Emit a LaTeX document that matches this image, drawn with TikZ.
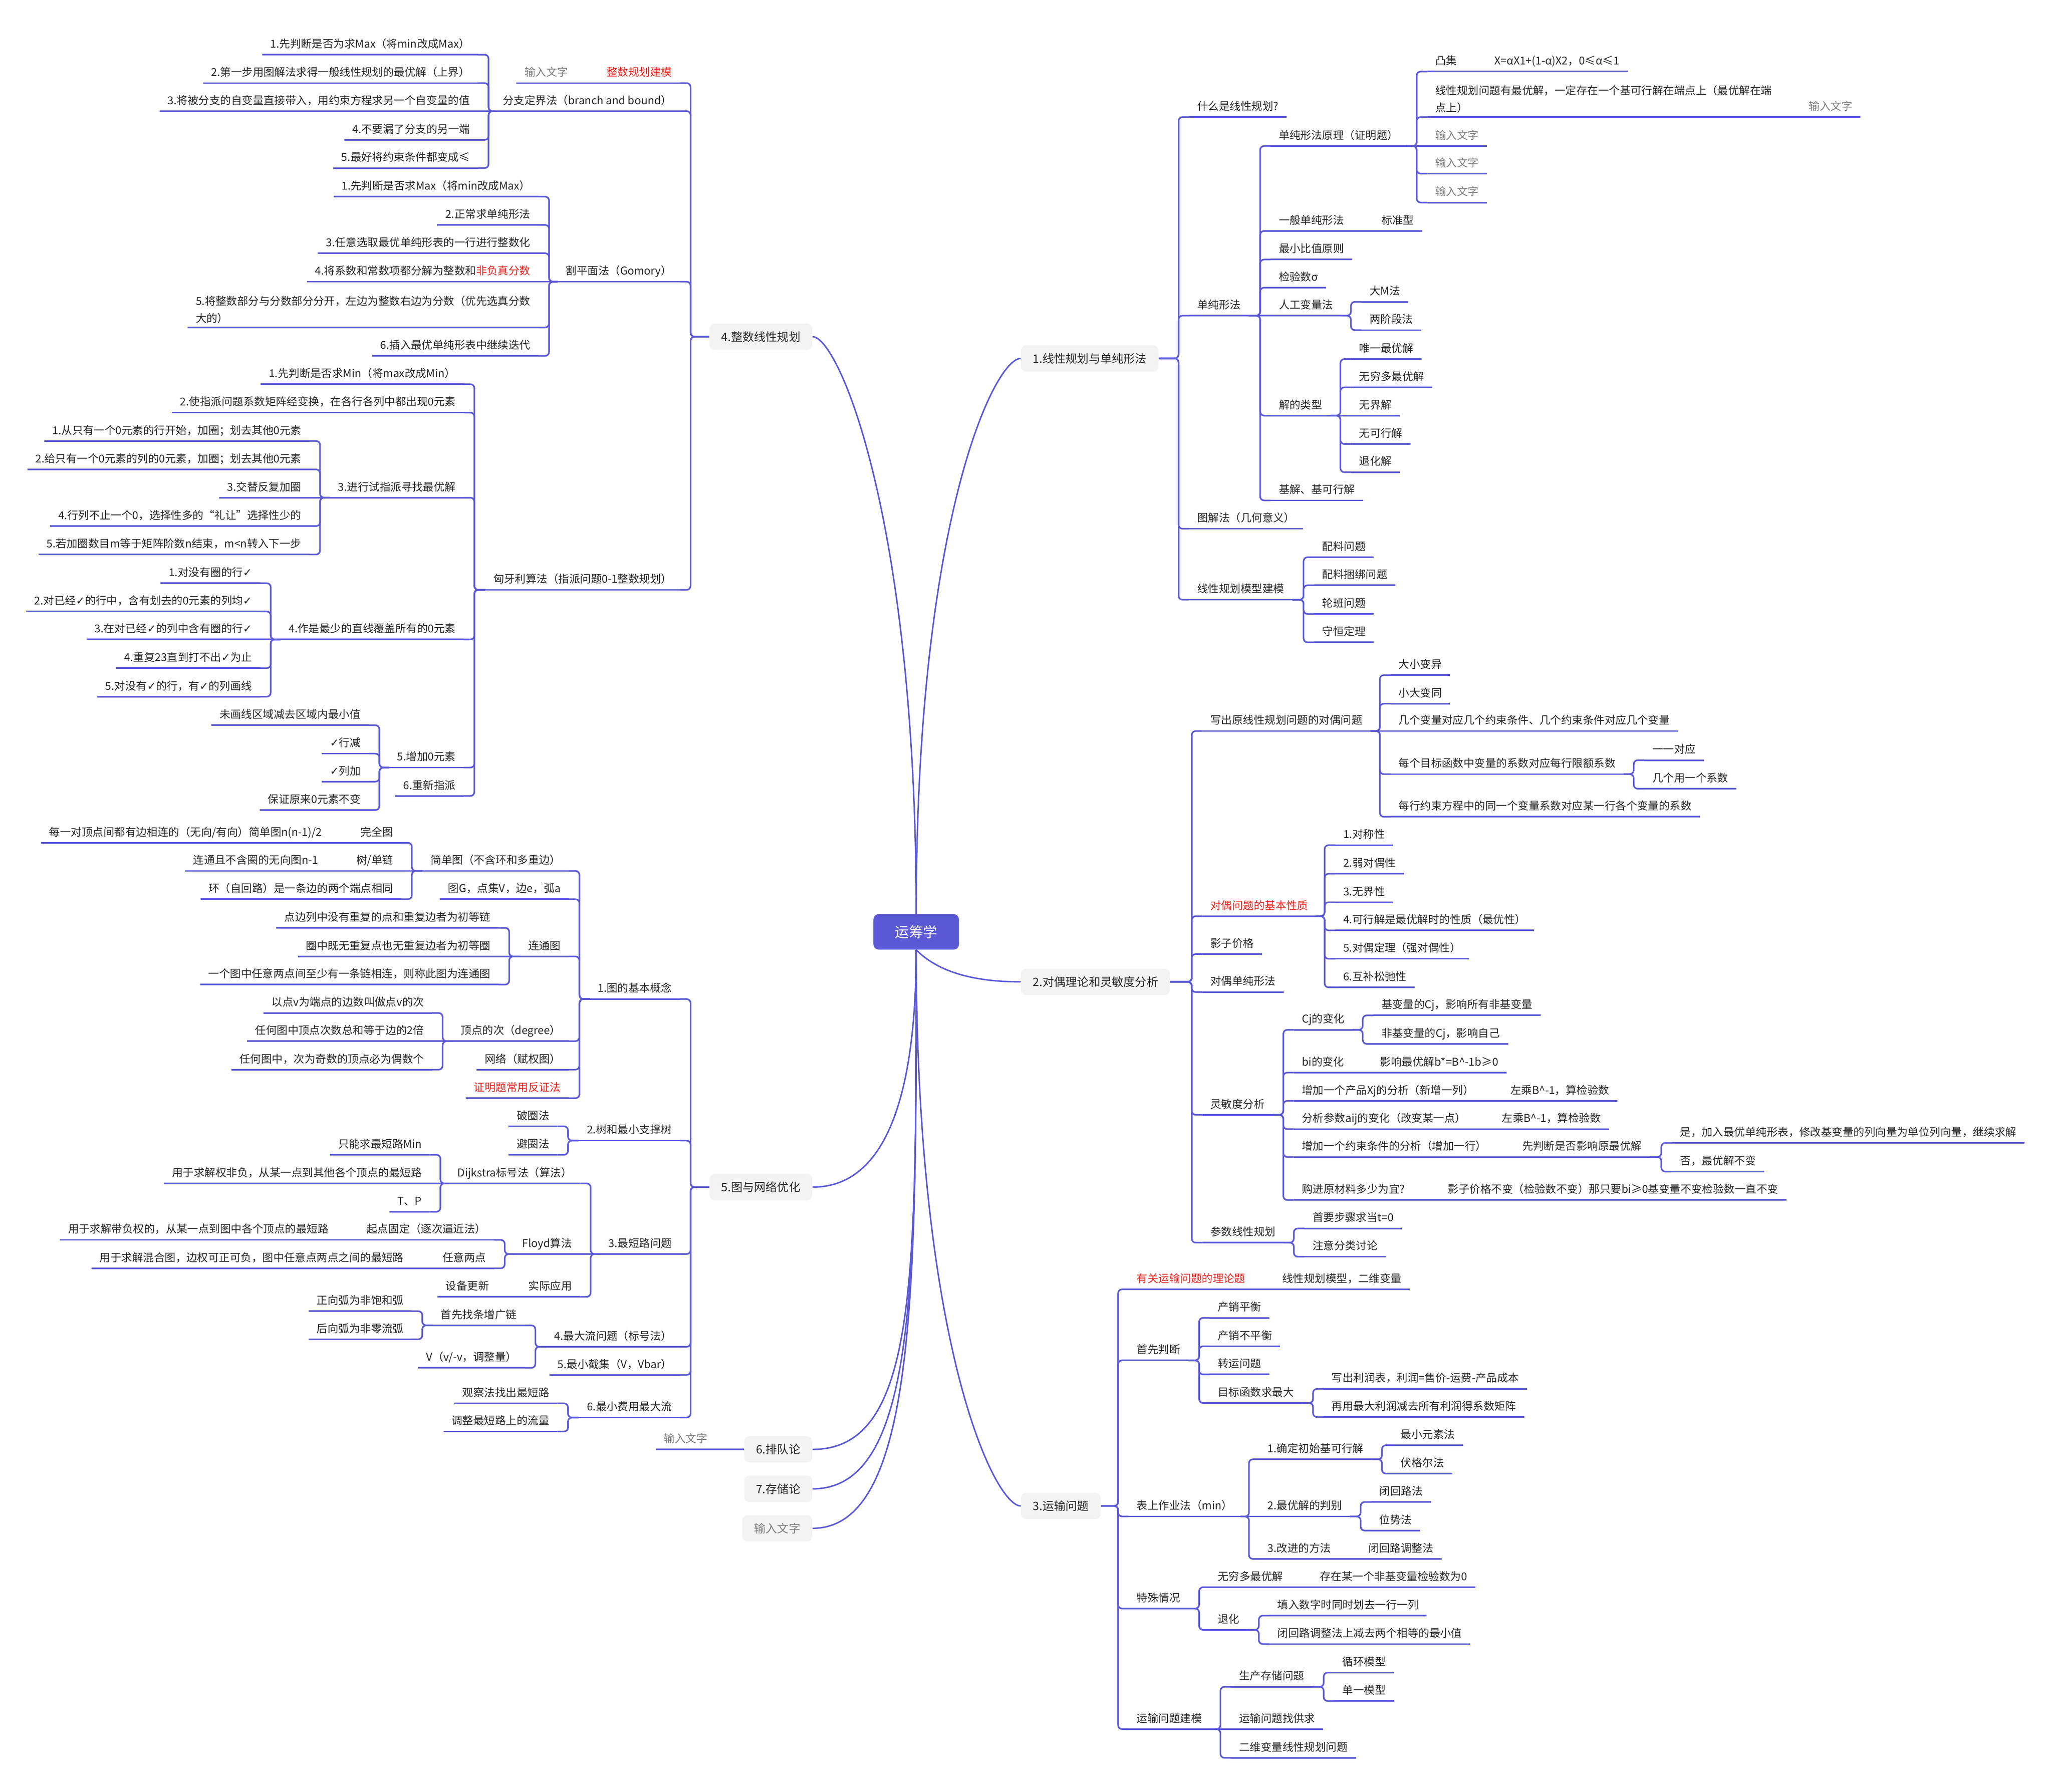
\documentclass[tikz,border=0pt]{standalone}
\usepackage{fontspec}
\setmainfont{Noto Sans CJK SC}
\newfontfamily\symfont{DejaVu Sans}
\newcommand\ck{{\symfont ✓}}
\newcommand\itemfont{\fontsize{8.25pt}{13pt}\selectfont}
\newcommand\topicfont{\fontsize{8.8pt}{11pt}\selectfont}
\newcommand\rootfont{\fontsize{10.8pt}{13pt}\selectfont}
\definecolor{lc}{RGB}{91,88,214}
\definecolor{tc}{RGB}{38,38,38}
\definecolor{gc}{RGB}{125,125,125}
\definecolor{rc}{RGB}{230,35,30}
\definecolor{boxc}{RGB}{243,243,243}
\tikzset{
  link/.style={draw=lc, line width=1.2pt, rounded corners=3pt},
  curve/.style={draw=lc, line width=1.1pt},
  ul/.style={append after command={(\tikzlastnode.south west) edge[link] (\tikzlastnode.south east)}},
  lab/.style={font=\itemfont, text=tc, inner xsep=6pt, inner ysep=3pt, ul},
  it/.style={lab, text height=6.5pt, text depth=2pt},
  rt/.style={it, anchor=south west},
  lt/.style={it, anchor=south east},
  rt2/.style={lab, align=left, anchor=south west},
  lt2/.style={lab, align=left, anchor=south east},
  greytxt/.style={text=gc},
  redtxt/.style={text=rc},
  topic/.style={fill=boxc, rounded corners=4pt, font=\topicfont, text=tc, inner xsep=9pt, minimum height=20pt},
  rootbox/.style={fill=lc, text=white, rounded corners=4pt, font=\rootfont, minimum width=65pt, minimum height=27pt}
}

\begin{document}
\begin{tikzpicture}[x=1pt, y=-1pt]
    \fill[white] (0,0) rectangle (1560,1362.5);
    \useasboundingbox (0,0) rectangle (1560,1362.5);

    \node[rootbox] (r) at (696.5,708.5) {运筹学};

    % 1
    \node[topic, anchor=west] (t1) at (776,272.5) {1.线性规划与单纯形法};
    \node[rt] (a1) at (904,89) {什么是线性规划?};
    \node[rt] (a2) at (904,240) {单纯形法};
    \node[rt] (a3) at (904,402) {图解法（几何意义）};
    \node[rt] (a4) at (904,456) {线性规划模型建模};
    \node[rt] (a21) at (966,111) {单纯形法原理（证明题）};
    \node[rt] (a22) at (966,175.6) {一般单纯形法};
    \node[rt] (a23) at (966,197.3) {最小比值原则};
    \node[rt] (a24) at (966,218.7) {检验数σ};
    \node[rt] (a25) at (966,240) {人工变量法};
    \node[rt] (a26) at (966,316) {解的类型};
    \node[rt] (a27) at (966,380.5) {基解、基可行解};
    \node[rt] (a211) at (1085,54.4) {凸集};
    \node[rt2] (a212) at (1085,89) {线性规划问题有最优解，一定存在一个基可行解在端点上（最优解在端\\点上）};
    \node[rt, greytxt] (a213) at (1085,111) {输入文字};
    \node[rt, greytxt] (a214) at (1085,132) {输入文字};
    \node[rt, greytxt] (a215) at (1085,154) {输入文字};
    \node[rt] (a2111) at (1130,54.4) {X=αX1+(1-α)X2，0≤α≤1};
    \node[rt, greytxt] (a2121) at (1369,89) {输入文字};
    \node[rt] (a221) at (1044,175.6) {标准型};
    \node[rt] (a251) at (1035,229.5) {大M法};
    \node[rt] (a252) at (1035,251) {两阶段法};
    \node[rt] (a261) at (1027,273) {唯一最优解};
    \node[rt] (a262) at (1027,294.5) {无穷多最优解};
    \node[rt] (a263) at (1027,316) {无界解};
    \node[rt] (a264) at (1027,337.6) {无可行解};
    \node[rt] (a265) at (1027,359) {退化解};
    \node[rt] (a41) at (999,423.7) {配料问题};
    \node[rt] (a42) at (999,445) {配料捆绑问题};
    \node[rt] (a43) at (999,466.8) {轮班问题};
    \node[rt] (a44) at (999,488.4) {守恒定理};

    \foreach \x in {a1,a2,a3,a4} \draw[link] (\x.south west) -- ++(-8,0) |- (t1.east);
    \foreach \x in {a21,a22,a23,a24,a26,a27} \draw[link] (\x.south west) -- ++(-8,0) |- (a2.south east);
    \draw[link] (a25.south west) -- (a2.south east);
    \foreach \x in {a211,a212,a214,a215} \draw[link] (\x.south west) -- ++(-8,0) |- (a21.south east);
    \draw[link] (a213.south west) -- (a21.south east);
    \draw[link] (a2111.south west) -- (a211.south east);
    \draw[link] (a2121.south west) -- (a212.south east);
    \draw[link] (a221.south west) -- (a22.south east);
    \foreach \x in {a251,a252} \draw[link] (\x.south west) -- ++(-8,0) |- (a25.south east);
    \foreach \x in {a261,a262,a264,a265} \draw[link] (\x.south west) -- ++(-8,0) |- (a26.south east);
    \draw[link] (a263.south west) -- (a26.south east);
    \foreach \x in {a41,a42,a43,a44} \draw[link] (\x.south west) -- ++(-8,0) |- (a4.south east);

    % 2
    \node[topic, anchor=west] (t2) at (776,746.5) {2.对偶理论和灵敏度分析};
    \node[rt] (b1) at (914,555.8) {写出原线性规划问题的对偶问题};
    \node[rt, redtxt] (b2) at (914,696.6) {对偶问题的基本性质};
    \node[rt] (b3) at (914,725.4) {影子价格};
    \node[rt] (b4) at (914,754.3) {对偶单纯形法};
    \node[rt] (b5) at (914,847.6) {灵敏度分析};
    \node[rt] (b6) at (914,944.8) {参数线性规划};
    \node[rt] (b11) at (1057,513.3) {大小变异};
    \node[rt] (b12) at (1057,535) {小大变同};
    \node[rt] (b13) at (1057,555.8) {几个变量对应几个约束条件、几个约束条件对应几个变量};
    \node[rt] (b14) at (1057,588.6) {每个目标函数中变量的系数对应每行限额系数};
    \node[rt] (b15) at (1057,621) {每行约束方程中的同一个变量系数对应某一行各个变量的系数};
    \node[rt] (b141) at (1250,578) {一一对应};
    \node[rt] (b142) at (1250,599.7) {几个用一个系数};
    \node[rt] (b21) at (1015,642.6) {1.对称性};
    \node[rt] (b22) at (1015,664.3) {2.弱对偶性};
    \node[rt] (b23) at (1015,686) {3.无界性};
    \node[rt] (b24) at (1015,707.4) {4.可行解是最优解时的性质（最优性）};
    \node[rt] (b25) at (1015,729) {5.对偶定理（强对偶性）};
    \node[rt] (b26) at (1015,750.7) {6.互补松弛性};
    \node[rt] (b51) at (983.6,783) {Cj的变化};
    \node[rt] (b52) at (983.6,815.5) {bi的变化};
    \node[rt] (b53) at (983.6,837) {增加一个产品Xj的分析（新增一列）};
    \node[rt] (b54) at (983.6,858.5) {分析参数aij的变化（改变某一点）};
    \node[rt] (b55) at (983.6,879.7) {增加一个约束条件的分析（增加一行）};
    \node[rt] (b56) at (983.6,912.4) {购进原材料多少为宜?};
    \node[rt] (b511) at (1044,772) {基变量的Cj，影响所有非基变量};
    \node[rt] (b512) at (1044,793.7) {非基变量的Cj，影响自己};
    \node[rt] (b521) at (1043,815.5) {影响最优解b*=B\textasciicircum-1b≥0};
    \node[rt] (b531) at (1142,837) {左乘B\textasciicircum-1，算检验数};
    \node[rt] (b541) at (1135.6,858.5) {左乘B\textasciicircum-1，算检验数};
    \node[rt] (b551) at (1151,879.7) {先判断是否影响原最优解};
    \node[rt] (b5511) at (1271,869) {是，加入最优单纯形表，修改基变量的列向量为单位列向量，继续求解};
    \node[rt] (b5512) at (1271,890.8) {否，最优解不变};
    \node[rt] (b561) at (1094.5,912.4) {影子价格不变（检验数不变）那只要bi≥0基变量不变检验数一直不变};
    \node[rt] (b61) at (991.6,934) {首要步骤求当t=0};
    \node[rt] (b62) at (991.6,955.5) {注意分类讨论};

    \foreach \x in {b1,b2,b3,b4,b5,b6} \draw[link] (\x.south west) -- ++(-8,0) |- (t2.east);
    \foreach \x in {b11,b12,b14,b15} \draw[link] (\x.south west) -- ++(-8,0) |- (b1.south east);
    \draw[link] (b13.south west) -- (b1.south east);
    \foreach \x in {b141,b142} \draw[link] (\x.south west) -- ++(-8,0) |- (b14.south east);
    \foreach \x in {b21,b22,b23,b24,b25,b26} \draw[link] (\x.south west) -- ++(-8,0) |- (b2.south east);
    \foreach \x in {b51,b52,b53,b54,b55,b56} \draw[link] (\x.south west) -- ++(-8,0) |- (b5.south east);
    \foreach \x in {b511,b512} \draw[link] (\x.south west) -- ++(-8,0) |- (b51.south east);
    \draw[link] (b521.south west) -- (b52.south east);
    \draw[link] (b531.south west) -- (b53.south east);
    \draw[link] (b541.south west) -- (b54.south east);
    \draw[link] (b551.south west) -- (b55.south east);
    \foreach \x in {b5511,b5512} \draw[link] (\x.south west) -- ++(-8,0) |- (b551.south east);
    \draw[link] (b561.south west) -- (b56.south east);
    \foreach \x in {b61,b62} \draw[link] (\x.south west) -- ++(-8,0) |- (b6.south east);

    % 3
    \node[topic, anchor=west] (t3) at (776,1145) {3.运输问题};
    \node[rt, redtxt] (c1) at (858,980.3) {有关运输问题的理论题};
    \node[rt] (c11) at (968.6,980.3) {线性规划模型，二维变量};
    \node[rt] (c2) at (858,1034.3) {首先判断};
    \node[rt] (c3) at (858,1153) {表上作业法（min）};
    \node[rt] (c4) at (858,1223) {特殊情况};
    \node[rt] (c5) at (858,1314.7) {运输问题建模};
    \node[rt] (c21) at (919.6,1002) {产销平衡};
    \node[rt] (c22) at (919.6,1023.6) {产销不平衡};
    \node[rt] (c23) at (919.6,1045) {转运问题};
    \node[rt] (c24) at (919.6,1066.7) {目标函数求最大};
    \node[rt] (c241) at (1006.2,1056) {写出利润表，利润=售价-运费-产品成本};
    \node[rt] (c242) at (1006.2,1077.4) {再用最大利润减去所有利润得系数矩阵};
    \node[rt] (c31) at (957.5,1109.5) {1.确定初始基可行解};
    \node[rt] (c32) at (957.5,1153) {2.最优解的判别};
    \node[rt] (c33) at (957.5,1185.3) {3.改进的方法};
    \node[rt] (c311) at (1058.6,1098.8) {最小元素法};
    \node[rt] (c312) at (1058.6,1120.4) {伏格尔法};
    \node[rt] (c321) at (1042.4,1142) {闭回路法};
    \node[rt] (c322) at (1042.4,1163.7) {位势法};
    \node[rt] (c331) at (1034,1185.3) {闭回路调整法};
    \node[rt] (c41) at (919.6,1206.8) {无穷多最优解};
    \node[rt] (c411) at (997.3,1206.8) {存在某一个非基变量检验数为0};
    \node[rt] (c42) at (919.6,1239.2) {退化};
    \node[rt] (c421) at (965,1228.4) {填入数字时同时划去一行一列};
    \node[rt] (c422) at (965,1250) {闭回路调整法上减去两个相等的最小值};
    \node[rt] (c51) at (935.8,1282.5) {生产存储问题};
    \node[rt] (c52) at (935.8,1314.7) {运输问题找供求};
    \node[rt] (c53) at (935.8,1336.5) {二维变量线性规划问题};
    \node[rt] (c511) at (1014.3,1271.7) {循环模型};
    \node[rt] (c512) at (1014.3,1293.3) {单一模型};

    \foreach \x in {c1,c2,c3,c4,c5} \draw[link] (\x.south west) -- ++(-8,0) |- (t3.east);
    \draw[link] (c11.south west) -- (c1.south east);
    \foreach \x in {c21,c22,c23,c24} \draw[link] (\x.south west) -- ++(-8,0) |- (c2.south east);
    \foreach \x in {c241,c242} \draw[link] (\x.south west) -- ++(-8,0) |- (c24.south east);
    \foreach \x in {c31,c33} \draw[link] (\x.south west) -- ++(-8,0) |- (c3.south east);
    \draw[link] (c32.south west) -- (c3.south east);
    \foreach \x in {c311,c312} \draw[link] (\x.south west) -- ++(-8,0) |- (c31.south east);
    \foreach \x in {c321,c322} \draw[link] (\x.south west) -- ++(-8,0) |- (c32.south east);
    \draw[link] (c331.south west) -- (c33.south east);
    \foreach \x in {c41,c42} \draw[link] (\x.south west) -- ++(-8,0) |- (c4.south east);
    \draw[link] (c411.south west) -- (c41.south east);
    \foreach \x in {c421,c422} \draw[link] (\x.south west) -- ++(-8,0) |- (c42.south east);
    \foreach \x in {c51,c53} \draw[link] (\x.south west) -- ++(-8,0) |- (c5.south east);
    \draw[link] (c52.south west) -- (c5.south east);
    \foreach \x in {c511,c512} \draw[link] (\x.south west) -- ++(-8,0) |- (c51.south east);

    % 4
    \node[topic, anchor=east] (t4) at (617.7,256) {4.整数线性规划};
    \node[lt, redtxt] (d1) at (517,63.2) {整数规划建模};
    \node[lt, greytxt] (d11) at (438,63.2) {输入文字};
    \node[lt] (d2) at (517,84.5) {分支定界法（branch and bound）};
    \node[lt] (d3) at (517,214.2) {割平面法（Gomory）};
    \node[lt] (d4) at (517,448.5) {匈牙利算法（指派问题0-1整数规划）};
    \node[lt] (d21) at (363.4,41.6) {1.先判断是否为求Max（将min改成Max）};
    \node[lt] (d22) at (363.4,63.2) {2.第一步用图解法求得一般线性规划的最优解（上界）};
    \node[lt] (d23) at (363.4,84.5) {3.将被分支的自变量直接带入，用约束方程求另一个自变量的值};
    \node[lt] (d24) at (363.4,106.4) {4.不要漏了分支的另一端};
    \node[lt] (d25) at (363.4,127.8) {5.最好将约束条件都变成≤};
    \node[lt] (d31) at (409.4,149.5) {1.先判断是否求Max（将min改成Max）};
    \node[lt] (d32) at (409.4,171) {2.正常求单纯形法};
    \node[lt] (d33) at (409.4,192.5) {3.任意选取最优单纯形表的一行进行整数化};
    \node[lt] (d34) at (409.4,214.2) {4.将系数和常数项都分解为整数和\textcolor{rc}{非负真分数}};
    \node[lt2] (d35) at (409.4,249) {5.将整数部分与分数部分分开，左边为整数右边为分数（优先选真分数\\大的）};
    \node[lt] (d36) at (409.4,270.6) {6.插入最优单纯形表中继续迭代};
    \node[lt] (d41) at (352.6,292.1) {1.先判断是否求Min（将max改成Min）};
    \node[lt] (d42) at (352.6,313.7) {2.使指派问题系数矩阵经变换，在各行各列中都出现0元素};
    \node[lt] (d43) at (352.6,378.4) {3.进行试指派寻找最优解};
    \node[lt] (d44) at (352.6,486.2) {4.作是最少的直线覆盖所有的0元素};
    \node[lt] (d45) at (352.6,583.6) {5.增加0元素};
    \node[lt] (d46) at (352.6,605.2) {6.重新指派};
    \node[lt] (d431) at (235.3,335.3) {1.从只有一个0元素的行开始，加圈；划去其他0元素};
    \node[lt] (d432) at (235.3,356.9) {2.给只有一个0元素的列的0元素，加圈；划去其他0元素};
    \node[lt] (d433) at (235.3,378.4) {3.交替反复加圈};
    \node[lt] (d434) at (235.3,400) {4.行列不止一个0，选择性多的“礼让”选择性少的};
    \node[lt] (d435) at (235.3,421.6) {5.若加圈数目m等于矩阵阶数n结束，m<n转入下一步};
    \node[lt] (d441) at (197.8,443.4) {1.对没有圈的行\ck};
    \node[lt] (d442) at (197.8,464.9) {2.对已经\ck 的行中，含有划去的0元素的列均\ck};
    \node[lt] (d443) at (197.8,486.2) {3.在对已经\ck 的列中含有圈的行\ck};
    \node[lt] (d444) at (197.8,508) {4.重复23直到打不出\ck 为止};
    \node[lt] (d445) at (197.8,529.7) {5.对没有\ck 的行，有\ck 的列画线};
    \node[lt] (d451) at (280.4,551.4) {未画线区域减去区域内最小值};
    \node[lt] (d452) at (280.4,573) {\ck 行减};
    \node[lt] (d453) at (280.4,594.3) {\ck 列加};
    \node[lt] (d454) at (280.4,615.9) {保证原来0元素不变};

    \foreach \x in {d1,d2,d3,d4} \draw[link] (\x.south east) -- ++(8,0) |- (t4.west);
    \draw[link] (d11.south east) -- (d1.south west);
    \foreach \x in {d21,d22,d24,d25} \draw[link] (\x.south east) -- ++(8,0) |- (d2.south west);
    \draw[link] (d23.south east) -- (d2.south west);
    \foreach \x in {d31,d32,d33,d35,d36} \draw[link] (\x.south east) -- ++(8,0) |- (d3.south west);
    \draw[link] (d34.south east) -- (d3.south west);
    \foreach \x in {d41,d42,d43,d44,d45,d46} \draw[link] (\x.south east) -- ++(8,0) |- (d4.south west);
    \foreach \x in {d431,d432,d434,d435} \draw[link] (\x.south east) -- ++(8,0) |- (d43.south west);
    \draw[link] (d433.south east) -- (d43.south west);
    \foreach \x in {d441,d442,d444,d445} \draw[link] (\x.south east) -- ++(8,0) |- (d44.south west);
    \draw[link] (d443.south east) -- (d44.south west);
    \foreach \x in {d451,d452,d453,d454} \draw[link] (\x.south east) -- ++(8,0) |- (d45.south west);

    % 5
    \node[topic, anchor=east] (t5) at (617.7,902.6) {5.图与网络优化};
    \node[lt] (e1) at (517,759.6) {1.图的基本概念};
    \node[lt] (e2) at (517,867.2) {2.树和最小支撑树};
    \node[lt] (e3) at (517,953.5) {3.最短路问题};
    \node[lt] (e4) at (517,1024) {4.最大流问题（标号法）};
    \node[lt] (e5) at (517,1045.4) {5.最小截集（V，Vbar）};
    \node[lt] (e6) at (517,1077.8) {6.最小费用最大流};
    \node[lt] (e11) at (432.5,662.2) {简单图（不含环和多重边）};
    \node[lt] (e12) at (432.5,683.7) {图G，点集V，边e，弧a};
    \node[lt] (e13) at (432.5,727.2) {连通图};
    \node[lt] (e14) at (432.5,791.6) {顶点的次（degree）};
    \node[lt] (e15) at (432.5,813.3) {网络（赋权图）};
    \node[lt, redtxt] (e16) at (432.5,835) {证明题常用反证法};
    \node[lt] (e111) at (305.1,640.8) {完全图};
    \node[lt] (e1111) at (251,640.8) {每一对顶点间都有边相连的（无向/有向）简单图n(n-1)/2};
    \node[lt] (e112) at (305.1,662.2) {树/单链};
    \node[lt] (e1121) at (248,662.2) {连通且不含圈的无向图n-1};
    \node[lt] (e113) at (305.1,683.7) {环（自回路）是一条边的两个端点相同};
    \node[lt] (e131) at (379.1,705.5) {点边列中没有重复的点和重复边者为初等链};
    \node[lt] (e132) at (379.1,727.2) {圈中既无重复点也无重复边者为初等圈};
    \node[lt] (e133) at (379.1,748.6) {一个图中任意两点间至少有一条链相连，则称此图为连通图};
    \node[lt] (e141) at (328.5,770.2) {以点v为端点的边数叫做点v的次};
    \node[lt] (e142) at (328.5,791.6) {任何图中顶点次数总和等于边的2倍};
    \node[lt] (e143) at (328.5,813.3) {任何图中，次为奇数的顶点必为偶数个};
    \node[lt] (e21) at (423.8,856.4) {破圈法};
    \node[lt] (e22) at (423.8,878) {避圈法};
    \node[lt] (e31) at (441,899.8) {Dijkstra标号法（算法）};
    \node[lt] (e32) at (441,953.5) {Floyd算法};
    \node[lt] (e33) at (441,986) {实际应用};
    \node[lt] (e331) at (378,986) {设备更新};
    \node[lt] (e311) at (326.8,878) {只能求最短路Min};
    \node[lt] (e312) at (326.8,899.8) {用于求解权非负，从某一点到其他各个顶点的最短路};
    \node[lt] (e313) at (326.8,921.3) {T、P};
    \node[lt] (e321) at (375.7,942.7) {起点固定（逐次逼近法）};
    \node[lt] (e3211) at (256,942.7) {用于求解带负权的，从某一点到图中各个顶点的最短路};
    \node[lt] (e322) at (375.7,964.3) {任意两点};
    \node[lt] (e3221) at (313,964.3) {用于求解混合图，边权可正可负，图中任意点两点之间的最短路};
    \node[lt] (e41) at (399,1007.7) {首先找条增广链};
    \node[lt] (e42) at (399,1040) {V（v/-v，调整量）};
    \node[lt] (e411) at (313,996.9) {正向弧为非饱和弧};
    \node[lt] (e412) at (313,1018.3) {后向弧为非零流弧};
    \node[lt] (e61) at (423.8,1067) {观察法找出最短路};
    \node[lt] (e62) at (423.8,1088.4) {调整最短路上的流量};

    \foreach \x in {e1,e2,e3,e4,e5,e6} \draw[link] (\x.south east) -- ++(8,0) |- (t5.west);
    \foreach \x in {e11,e12,e13,e14,e15,e16} \draw[link] (\x.south east) -- ++(8,0) |- (e1.south west);
    \foreach \x in {e111,e113} \draw[link] (\x.south east) -- ++(8,0) |- (e11.south west);
    \draw[link] (e112.south east) -- (e11.south west);
    \draw[link] (e1111.south east) -- (e111.south west);
    \draw[link] (e1121.south east) -- (e112.south west);
    \foreach \x in {e131,e133} \draw[link] (\x.south east) -- ++(8,0) |- (e13.south west);
    \draw[link] (e132.south east) -- (e13.south west);
    \foreach \x in {e141,e143} \draw[link] (\x.south east) -- ++(8,0) |- (e14.south west);
    \draw[link] (e142.south east) -- (e14.south west);
    \foreach \x in {e21,e22} \draw[link] (\x.south east) -- ++(8,0) |- (e2.south west);
    \foreach \x in {e31,e33} \draw[link] (\x.south east) -- ++(8,0) |- (e3.south west);
    \draw[link] (e32.south east) -- (e3.south west);
    \draw[link] (e331.south east) -- (e33.south west);
    \foreach \x in {e311,e313} \draw[link] (\x.south east) -- ++(8,0) |- (e31.south west);
    \draw[link] (e312.south east) -- (e31.south west);
    \foreach \x in {e321,e322} \draw[link] (\x.south east) -- ++(8,0) |- (e32.south west);
    \draw[link] (e3211.south east) -- (e321.south west);
    \draw[link] (e3221.south east) -- (e322.south west);
    \foreach \x in {e41,e42} \draw[link] (\x.south east) -- ++(8,0) |- (e4.south west);
    \foreach \x in {e411,e412} \draw[link] (\x.south east) -- ++(8,0) |- (e41.south west);
    \foreach \x in {e61,e62} \draw[link] (\x.south east) -- ++(8,0) |- (e6.south west);

    % 6 - 8
    \node[topic, anchor=east] (t6) at (617.7,1102) {6.排队论};
    \node[topic, anchor=east] (t7) at (617.7,1132) {7.存储论};
    \node[topic, anchor=east, text=gc] (t8) at (617.7,1162) {输入文字};
    \node[lt, greytxt] (f1) at (544,1102) {输入文字};
    \draw[link] (f1.south east) -- (t6.west);

    \draw[curve] (r.north) .. controls +(0,-300) and +(-20,0) .. (t1.west);
    \draw[curve] (r.north) .. controls +(0,-300) and +(20,0) .. (t4.east);
    \draw[curve] (r.south) .. controls +(15,15) and +(-40,0) .. (t2.west);
    \draw[curve] (r.south) .. controls +(0,300) and +(-20,0) .. (t3.west);
    \draw[curve] (r.south) .. controls +(0,100) and +(60,0) .. (t5.east);
    \foreach \x in {t6,t7,t8} \draw[curve] (r.south) .. controls +(0,250) and +(80,0) .. (\x.east);
\end{tikzpicture}
\end{document}
